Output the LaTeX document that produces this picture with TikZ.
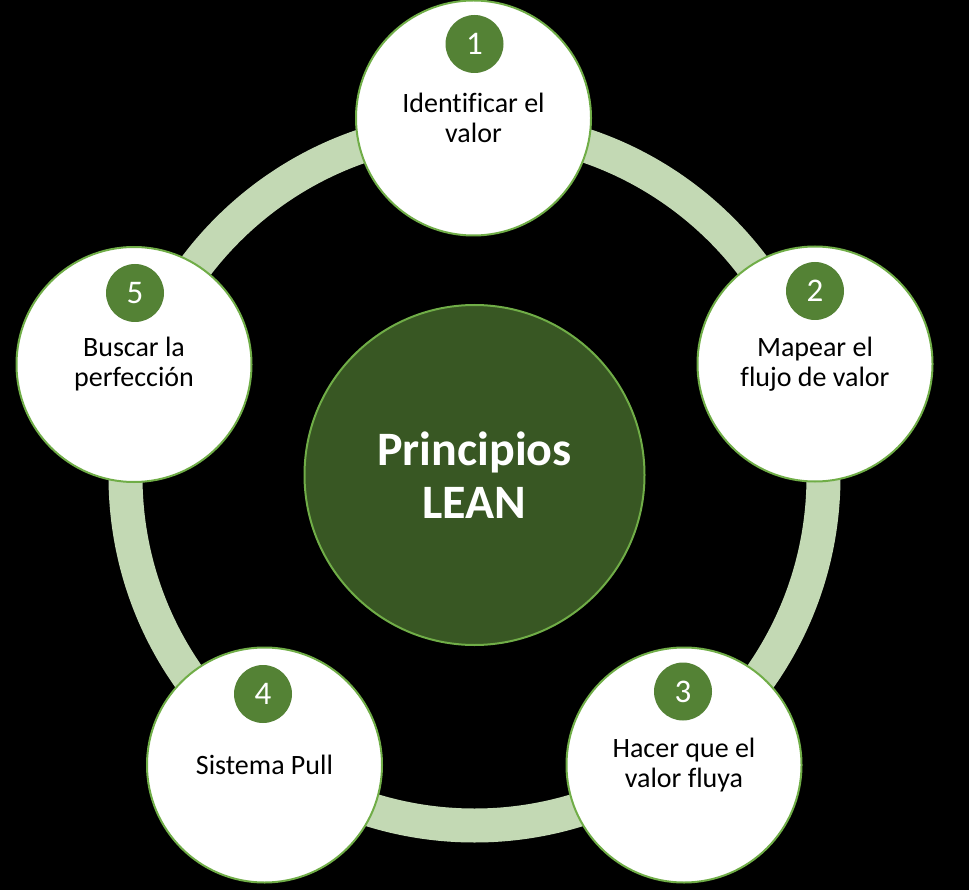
\documentclass[tikz,border=0pt]{standalone}
\usepackage{fontspec}
\setmainfont{Carlito}[Ligatures=NoCommon]
\definecolor{edgegreen}{HTML}{70AD47}
\definecolor{numgreen}{HTML}{548235}
\definecolor{hubgreen}{HTML}{385723}
\definecolor{ringgreen}{HTML}{C3D9B4}
\begin{document}
\begin{tikzpicture}[x=1pt,y=-1pt,
  ringstyle/.style={draw=ringgreen, line width=34pt},
  stepnode/.style={circle, fill=white, draw=edgegreen, line width=2pt, minimum size=235pt, inner sep=0pt, align=center, text=black, font=\fontsize{28}{30}\selectfont},
  numnode/.style={circle, fill=numgreen, minimum size=58pt, inner sep=0pt, text=white, font=\fontsize{33}{35}\selectfont},
  hub/.style={circle, fill=hubgreen, draw=edgegreen, line width=2pt, minimum size=340pt, inner sep=0pt, align=center, text=white, font=\bfseries\fontsize{48}{53}\selectfont}]
\fill[black] (0,0) rectangle (969,890);
\useasboundingbox (0,0) rectangle (969,890);
\coordinate (rc) at (474.5,476.5);
\draw[ringstyle] (rc) circle[radius=349pt];
\node[hub] (hubc) at (474.5,475) {Principios\\LEAN};
\node[stepnode] (n1) at (473.5,118) {Identificar el\\valor};
\node[stepnode] (n2) at (815,364) {Mapear el\\flujo de valor};
\node[stepnode] (n3) at (684,765) {Hacer que el\\valor fluya};
\node[stepnode] (n4) at (264.5,765) {Sistema Pull};
\node[stepnode] (n5) at (134,364.5) {Buscar la\\perfección};
\node[numnode] (m1) at (474.5,44) {1};
\node[numnode] (m2) at (815,291) {2};
\node[numnode] (m3) at (683,691.5) {3};
\node[numnode] (m4) at (263,694) {4};
\node[numnode] (m5) at (135,293) {5};
\end{tikzpicture}
\end{document}
